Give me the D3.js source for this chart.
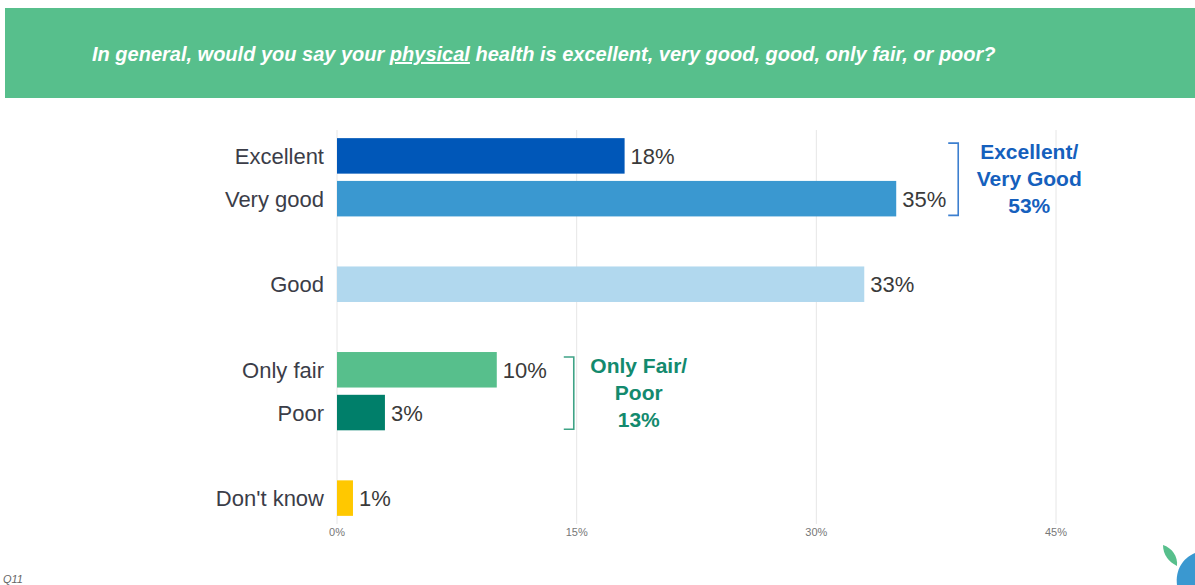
<!DOCTYPE html>
<html><head><meta charset="utf-8">
<script src="https://cdn.jsdelivr.net/npm/d3@7"></script>
<style>body{margin:0;background:#fff;}svg{display:block;font-family:"Liberation Sans",Arial,sans-serif;}</style>
</head><body><svg id="c" width="1195" height="585"></svg>
<script>
const rows = ["Excellent","Very good","_s1","Good","_s2","Only fair","Poor","_s3","Don't know"];
const categories = ["Excellent","Very good","Good","Only fair","Poor","Don't know"];
const values = [18,35,33,10,3,1];
const colors = ["#0057B8","#3A98D0","#B1D8EE","#57BF8C","#007F6A","#FFC800"];
const ticks = [0,15,30,45];
const groups = [
  {from:"Excellent",to:"Very good",lines:["Excellent/","Very Good","53%"],color:"#1560BD",bracket:"#3C7FCF",gap:62,tx:71},
  {from:"Only fair",to:"Poor",lines:["Only Fair/","Poor","13%"],color:"#138A6E",bracket:"#3FA386",gap:77,tx:65}
];
const title = ["In general, would you say your ","physical"," health is excellent, very good, good, only fair, or poor?"];

const svg = d3.select("#c");
svg.append("rect").attr("x",5).attr("y",8).attr("width",1190).attr("height",90).attr("fill","#57BF8C");
const t = svg.append("text").attr("x",92).attr("y",61).attr("fill","#fff")
  .attr("font-size",20).attr("font-weight","bold").attr("font-style","italic");
title.forEach((s,i)=>t.append("tspan").text(s).attr("text-decoration",i===1?"underline":null));

const x = d3.scaleLinear().domain([0,45]).range([337,1056]);
const y = d3.scaleBand().domain(rows).range([136,518]).paddingInner(0.17).paddingOuter(0.05);

svg.append("g").selectAll("line").data(ticks).join("line")
  .attr("x1",d=>x(d)).attr("x2",d=>x(d)).attr("y1",130).attr("y2",524)
  .attr("stroke","#e6e6e6").attr("stroke-width",1);
svg.append("g").selectAll("text").data(ticks).join("text")
  .attr("x",d=>x(d)).attr("y",536).attr("text-anchor","middle")
  .attr("font-size",11).attr("fill","#777").text(d=>d+"%");

const data = categories.map((c,i)=>({c,v:values[i],col:colors[i]}));
svg.append("g").selectAll("rect").data(data).join("rect")
  .attr("x",x(0)).attr("y",d=>y(d.c)).attr("width",d=>x(d.v)-x(0)).attr("height",y.bandwidth())
  .attr("fill",d=>d.col);
svg.append("g").selectAll("text").data(data).join("text")
  .attr("x",d=>x(d.v)+6).attr("y",d=>y(d.c)+y.bandwidth()/2+8)
  .attr("font-size",22).attr("fill","#3a3a3a").text(d=>d.v+"%");
svg.append("g").selectAll("text").data(data).join("text")
  .attr("x",324).attr("y",d=>y(d.c)+y.bandwidth()/2+8).attr("text-anchor","end")
  .attr("font-size",22).attr("fill","#3b3d48").text(d=>d.c);

groups.forEach(g=>{
  const y0 = y(g.from)+5, y1 = y(g.to)+y.bandwidth()-1;
  const maxV = d3.max(data.filter(d=>d.c===g.from||d.c===g.to),d=>d.v);
  const bx = x(maxV)+g.gap;
  svg.append("path").attr("d",`M${bx-10},${y0}H${bx}V${y1}H${bx-10}`)
    .attr("fill","none").attr("stroke",g.bracket).attr("stroke-width",1.6);
  const cx = bx+g.tx, cy = (y0+y1)/2;
  g.lines.forEach((l,i)=>svg.append("text").attr("x",cx).attr("y",cy-20+i*27)
    .attr("text-anchor","middle").attr("font-size",21).attr("font-weight","bold")
    .attr("fill",g.color).text(l));
});

svg.append("text").attr("x",3).attr("y",583).attr("font-size",11).attr("font-style","italic")
  .attr("fill","#666").text("Q11");
svg.append("path").attr("d","M1163,545 C1172,548 1178,556 1177,566 C1169,562 1163,555 1163,545Z").attr("fill","#57BF8C");
svg.append("path").attr("d","M1195,553 C1183,558 1175,570 1177,585 L1195,585Z").attr("fill","#3A98D0");
</script></body></html>
